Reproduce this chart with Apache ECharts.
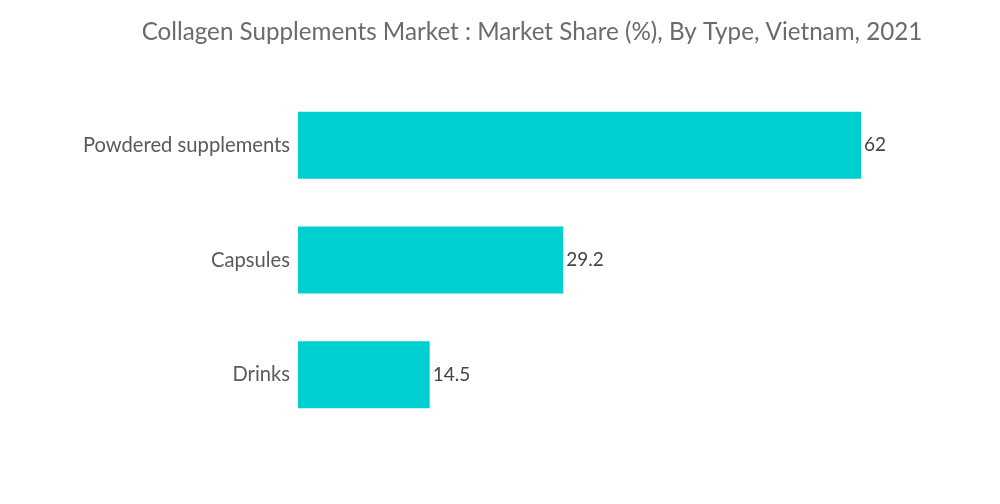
<!DOCTYPE html>
<html><head><meta charset="utf-8">
<script src="https://cdn.jsdelivr.net/npm/echarts@6/dist/echarts.min.js"></script>
<style>html,body{margin:0;padding:0;background:#fff}#c{width:1000px;height:504px}</style>
</head><body><div id="c"></div>
<script>
const titleText = 'Collagen Supplements Market : Market Share (%), By Type, Vietnam, 2021';
const categories = ['Powdered supplements', 'Capsules', 'Drinks'];
const values = [62, 29.2, 14.5];

const chart = echarts.init(document.getElementById('c'), null, {renderer: 'canvas'});
chart.setOption({
  animation: false,
  backgroundColor: '#ffffff',
  title: {
    text: titleText,
    left: 527, top: 15, textAlign: 'center',
    textStyle: {fontFamily: 'Lato', fontSize: 24.2, fontWeight: 'normal', color: '#6b6b6b'}
  },
  grid: {left: 298, top: 88, width: 563, height: 344, containLabel: false},
  xAxis: {type: 'value', min: 0, max: 62, show: false},
  yAxis: {
    type: 'category', data: categories, inverse: true,
    axisLine: {show: false}, axisTick: {show: false}, splitLine: {show: false},
    axisLabel: {fontFamily: 'Lato', fontSize: 20.2, color: '#5a5a5a', margin: 8}
  },
  series: [{
    type: 'bar', data: values, barCategoryGap: '41.5%',
    itemStyle: {color: '#00cfd1'},
    label: {show: true, position: 'right', distance: 3, fontFamily: 'Lato', fontSize: 19, color: '#444444'}
  }]
});
</script></body></html>
